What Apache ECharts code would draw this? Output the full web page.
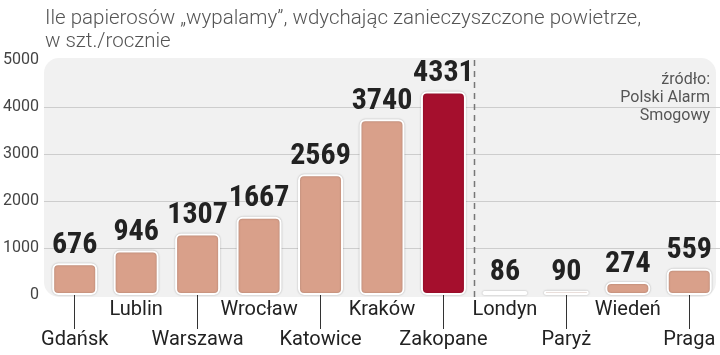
<!DOCTYPE html>
<html>
<head>
<meta charset="utf-8">
<script src="https://cdn.jsdelivr.net/npm/echarts@6/dist/echarts.min.js"></script>
<style>html,body{margin:0;padding:0;background:#fff}#c{width:720px;height:355px}</style>
</head>
<body>
<div id="c"></div>
<script>
const categories = ['Gdańsk','Lublin','Warszawa','Wrocław','Katowice','Kraków','Zakopane','Londyn','Paryż','Wiedeń','Praga'];
const values = [676, 946, 1307, 1667, 2569, 3740, 4331, 86, 90, 274, 559];
const highlight = 'Zakopane';
const dividerAfter = 'Zakopane';
const yTicks = [0, 1000, 2000, 3000, 4000, 5000];
const titleText = 'Ile papierosów „wypalamy”, wdychając zanieczyszczone powietrze,\nw szt./rocznie';
const sourceText = 'źródło:\nPolski Alarm\nSmogowy';

const chart = echarts.init(document.getElementById('c'), null, {renderer:'canvas'});
const option = {
  animation: false,
  backgroundColor: '#fff',
  title: {
    text: titleText, left: 40, top: 2,
    textStyle: {fontFamily: 'Roboto', fontWeight: 300, fontSize: 20.5, color: '#555', lineHeight: 23}
  },
  grid: {left: 43, right: 0, top: 60, bottom: 59},
  xAxis: {
    type: 'category', data: categories,
    axisLine: {show: false},
    axisTick: {show: true, alignWithLabel: true, length: 34, lineStyle: {color: '#333', width: 1}, interval: (i) => i % 2 === 0},
    axisLabel: {
      interval: 0, margin: 0, fontFamily: 'Roboto', fontSize: 20, color: '#222', lineHeight: 30,
      formatter: (v, i) => (i % 2 === 0 ? '\n' + v : v)
    },
    splitLine: {show: false}
  },
  yAxis: {
    type: 'value', min: yTicks[0], max: yTicks[yTicks.length - 1], interval: 1000,
    axisLine: {show: false}, axisTick: {show: false},
    axisLabel: {margin: 5, fontFamily: 'Roboto', fontSize: 16, color: '#444', formatter: (v) => String(v)},
    splitLine: {show: true, showMinLine: false, showMaxLine: false, lineStyle: {color: '#cdcdcd', width: 1}}
  },
  series: [{
    type: 'bar', barWidth: 45,
    data: values.map((v, i) => ({
      value: v,
      itemStyle: {color: categories[i] === highlight ? '#A50F2D' : '#D9A08A'}
    })),
    itemStyle: {borderColor: '#fff', borderWidth: 2, borderRadius: 5, shadowBlur: 2, shadowColor: 'rgba(0,0,0,0.25)'},
    label: {show: true, position: 'top', distance: 3, fontFamily: "'Roboto Condensed', 'DejaVu Sans Condensed', 'Liberation Sans Narrow', 'Arial Narrow', 'Open Sans Condensed', Roboto", fontWeight: 'bold', fontSize: 30, color: '#222'}
  }]
};
chart.setOption(option);

const i0 = categories.indexOf(dividerAfter);
const xa = chart.convertToPixel({xAxisIndex: 0}, categories[i0]);
const xb = chart.convertToPixel({xAxisIndex: 0}, categories[i0 + 1]);
const xd = Math.round((xa + xb) / 2) + 0.5;
const yTop = chart.convertToPixel({yAxisIndex: 0}, yTicks[yTicks.length - 1]);
const yBot = chart.convertToPixel({yAxisIndex: 0}, yTicks[0]);
chart.setOption({
  graphic: [
    {type: 'rect', z: -10, silent: true, shape: {x: 44, y: yTop - 2, width: 672, height: yBot - yTop + 4, r: 15}, style: {fill: '#f1f1f1'}},
    {type: 'line', z: 1, silent: true, shape: {x1: xd, y1: yTop, x2: xd, y2: yBot + 2}, style: {stroke: '#777', lineWidth: 1.5, lineDash: [6, 5]}},
    {type: 'text', z: 10, silent: true, x: 710, y: 71, style: {text: sourceText, fontFamily: 'Roboto', fontSize: 16, fill: '#555', align: 'right', lineHeight: 18}}
  ]
});
</script>
</body>
</html>
